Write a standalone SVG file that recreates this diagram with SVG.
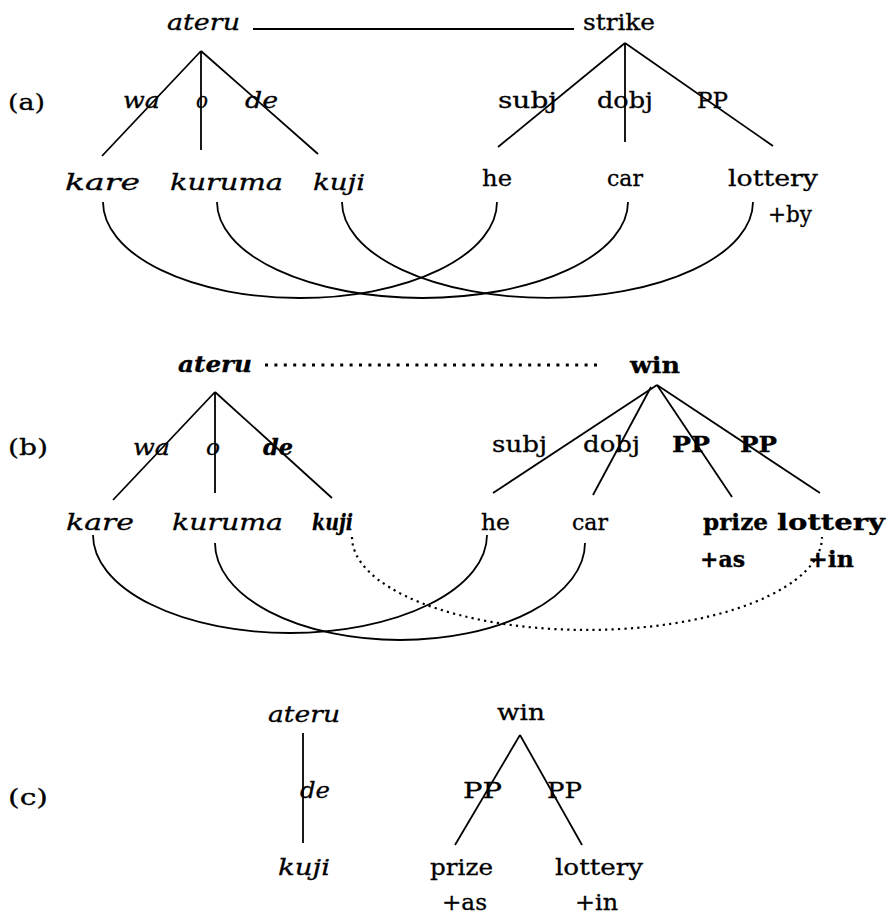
<svg xmlns="http://www.w3.org/2000/svg" width="888" height="918" viewBox="0 0 888 918">
<style>
text{font-family:"DejaVu Serif","Liberation Serif",serif;font-size:22px;fill:#000;stroke:#000;stroke-width:0.3}
.it{font-style:italic}
.bd{font-weight:bold}
.bi{font-style:italic;font-weight:bold}
.ln{stroke:#000;stroke-width:1.8;fill:none}
.dot{stroke:#000;stroke-width:3;fill:none;stroke-dasharray:3 6.4}
.dotc{stroke:#000;stroke-width:2.2;fill:none;stroke-dasharray:2.2 4.2}
</style>
<rect width="888" height="918" fill="#fff"/>
<g id="connectors">
<line class="ln" x1="253" y1="29" x2="574" y2="29"/>
<line class="ln" x1="201" y1="51" x2="102" y2="156"/>
<line class="ln" x1="201" y1="51" x2="201" y2="150"/>
<line class="ln" x1="201" y1="51" x2="318" y2="154"/>
<line class="ln" x1="625" y1="43" x2="498" y2="147"/>
<line class="ln" x1="625" y1="43" x2="625" y2="142"/>
<line class="ln" x1="625" y1="43" x2="773" y2="146"/>
<path class="ln" d="M103,202 A197,96 0 0 0 497,202"/>
<path class="ln" d="M217,202 A205.5,96 0 0 0 628,202"/>
<path class="ln" d="M342,202 A205.5,96 0 0 0 753,202"/>
<line class="dot" x1="265" y1="365" x2="603" y2="365"/>
<line class="ln" x1="215" y1="392" x2="113" y2="500"/>
<line class="ln" x1="215" y1="392" x2="215" y2="493"/>
<line class="ln" x1="215" y1="392" x2="332" y2="498"/>
<line class="ln" x1="657" y1="385" x2="493" y2="493"/>
<line class="ln" x1="651" y1="387" x2="593" y2="495"/>
<line class="ln" x1="657" y1="385" x2="732" y2="497"/>
<line class="ln" x1="657" y1="385" x2="820" y2="493"/>
<path class="ln" d="M93,535 A197,98 0 0 0 487,535"/>
<path class="ln" d="M215,543 A185,97 0 0 0 585,543"/>
<path class="dotc" d="M352,537 A235,93 0 0 0 822,537"/>
<line class="ln" x1="303" y1="733" x2="303" y2="843"/>
<line class="ln" x1="520" y1="735" x2="455" y2="845"/>
<line class="ln" x1="520" y1="735" x2="582" y2="845"/>
</g>
<g id="label-a"><text x="8" y="110" textLength="37" lengthAdjust="spacingAndGlyphs">(a)</text></g>
<g id="a-ateru"><text class="it" x="167" y="30" textLength="73" lengthAdjust="spacingAndGlyphs">ateru</text></g>
<g id="a-strike"><text x="583" y="30" textLength="72" lengthAdjust="spacingAndGlyphs">strike</text></g>
<g id="a-wa"><text class="it" x="123" y="108" textLength="37" lengthAdjust="spacingAndGlyphs">wa</text></g>
<g id="a-o"><text class="it" x="196" y="108" textLength="12" lengthAdjust="spacingAndGlyphs">o</text></g>
<g id="a-de"><text class="it" x="245" y="108" textLength="33" lengthAdjust="spacingAndGlyphs">de</text></g>
<g id="a-subj"><text x="498" y="108" textLength="59" lengthAdjust="spacingAndGlyphs">subj</text></g>
<g id="a-dobj"><text x="597" y="108" textLength="56" lengthAdjust="spacingAndGlyphs">dobj</text></g>
<g id="a-pp"><text x="697" y="108" textLength="31" lengthAdjust="spacingAndGlyphs">PP</text></g>
<g id="a-kare"><text class="it" x="65" y="190" textLength="75" lengthAdjust="spacingAndGlyphs">kare</text></g>
<g id="a-kuruma"><text class="it" x="170" y="190" textLength="113" lengthAdjust="spacingAndGlyphs">kuruma</text></g>
<g id="a-kuji"><text class="it" x="313" y="190" textLength="52" lengthAdjust="spacingAndGlyphs">kuji</text></g>
<g id="a-he"><text x="482" y="186" textLength="30" lengthAdjust="spacingAndGlyphs">he</text></g>
<g id="a-car"><text x="607" y="186" textLength="36" lengthAdjust="spacingAndGlyphs">car</text></g>
<g id="a-lottery"><text x="728" y="186" textLength="90" lengthAdjust="spacingAndGlyphs">lottery</text>
<text x="768" y="222" textLength="44" lengthAdjust="spacingAndGlyphs">+by</text></g>
<g id="label-b"><text x="8" y="455" textLength="40" lengthAdjust="spacingAndGlyphs">(b)</text></g>
<g id="b-ateru"><text class="bi" x="178" y="372" textLength="74" lengthAdjust="spacingAndGlyphs">ateru</text></g>
<g id="b-win"><text class="bd" x="630" y="373" textLength="50" lengthAdjust="spacingAndGlyphs">win</text></g>
<g id="b-wa"><text class="it" x="133" y="455" textLength="37" lengthAdjust="spacingAndGlyphs">wa</text></g>
<g id="b-o"><text class="it" x="206" y="455" textLength="14" lengthAdjust="spacingAndGlyphs">o</text></g>
<g id="b-de"><text class="bi" x="263" y="455" textLength="30" lengthAdjust="spacingAndGlyphs">de</text></g>
<g id="b-subj"><text x="492" y="452" textLength="55" lengthAdjust="spacingAndGlyphs">subj</text></g>
<g id="b-dobj"><text x="583" y="452" textLength="57" lengthAdjust="spacingAndGlyphs">dobj</text></g>
<g id="b-pp1"><text class="bd" x="672" y="452" textLength="38" lengthAdjust="spacingAndGlyphs">PP</text></g>
<g id="b-pp2"><text class="bd" x="740" y="452" textLength="37" lengthAdjust="spacingAndGlyphs">PP</text></g>
<g id="b-kare"><text class="it" x="66" y="530" textLength="68" lengthAdjust="spacingAndGlyphs">kare</text></g>
<g id="b-kuruma"><text class="it" x="172" y="530" textLength="111" lengthAdjust="spacingAndGlyphs">kuruma</text></g>
<g id="b-kuji"><text class="bi" x="312" y="530" textLength="41" lengthAdjust="spacingAndGlyphs">kuji</text></g>
<g id="b-he"><text x="481" y="530" textLength="29" lengthAdjust="spacingAndGlyphs">he</text></g>
<g id="b-car"><text x="572" y="530" textLength="36" lengthAdjust="spacingAndGlyphs">car</text></g>
<g id="b-prize"><text class="bd" x="703" y="530" textLength="65" lengthAdjust="spacingAndGlyphs">prize</text>
<text class="bd" x="700" y="567" textLength="45" lengthAdjust="spacingAndGlyphs">+as</text></g>
<g id="b-lottery"><text class="bd" x="777" y="530" textLength="108" lengthAdjust="spacingAndGlyphs">lottery</text>
<text class="bd" x="808" y="567" textLength="46" lengthAdjust="spacingAndGlyphs">+in</text></g>
<g id="label-c"><text x="8" y="805" textLength="40" lengthAdjust="spacingAndGlyphs">(c)</text></g>
<g id="c-ateru"><text class="it" x="268" y="722" textLength="72" lengthAdjust="spacingAndGlyphs">ateru</text></g>
<g id="c-de"><text class="it" x="300" y="798" textLength="30" lengthAdjust="spacingAndGlyphs">de</text></g>
<g id="c-kuji"><text class="it" x="278" y="875" textLength="52" lengthAdjust="spacingAndGlyphs">kuji</text></g>
<g id="c-win"><text x="497" y="720" textLength="48" lengthAdjust="spacingAndGlyphs">win</text></g>
<g id="c-pp1"><text x="463" y="798" textLength="39" lengthAdjust="spacingAndGlyphs">PP</text></g>
<g id="c-pp2"><text x="547" y="798" textLength="35" lengthAdjust="spacingAndGlyphs">PP</text></g>
<g id="c-prize"><text x="430" y="875" textLength="63" lengthAdjust="spacingAndGlyphs">prize</text>
<text x="442" y="910" textLength="45" lengthAdjust="spacingAndGlyphs">+as</text></g>
<g id="c-lottery"><text x="555" y="875" textLength="88" lengthAdjust="spacingAndGlyphs">lottery</text>
<text x="575" y="910" textLength="43" lengthAdjust="spacingAndGlyphs">+in</text></g>
</svg>
